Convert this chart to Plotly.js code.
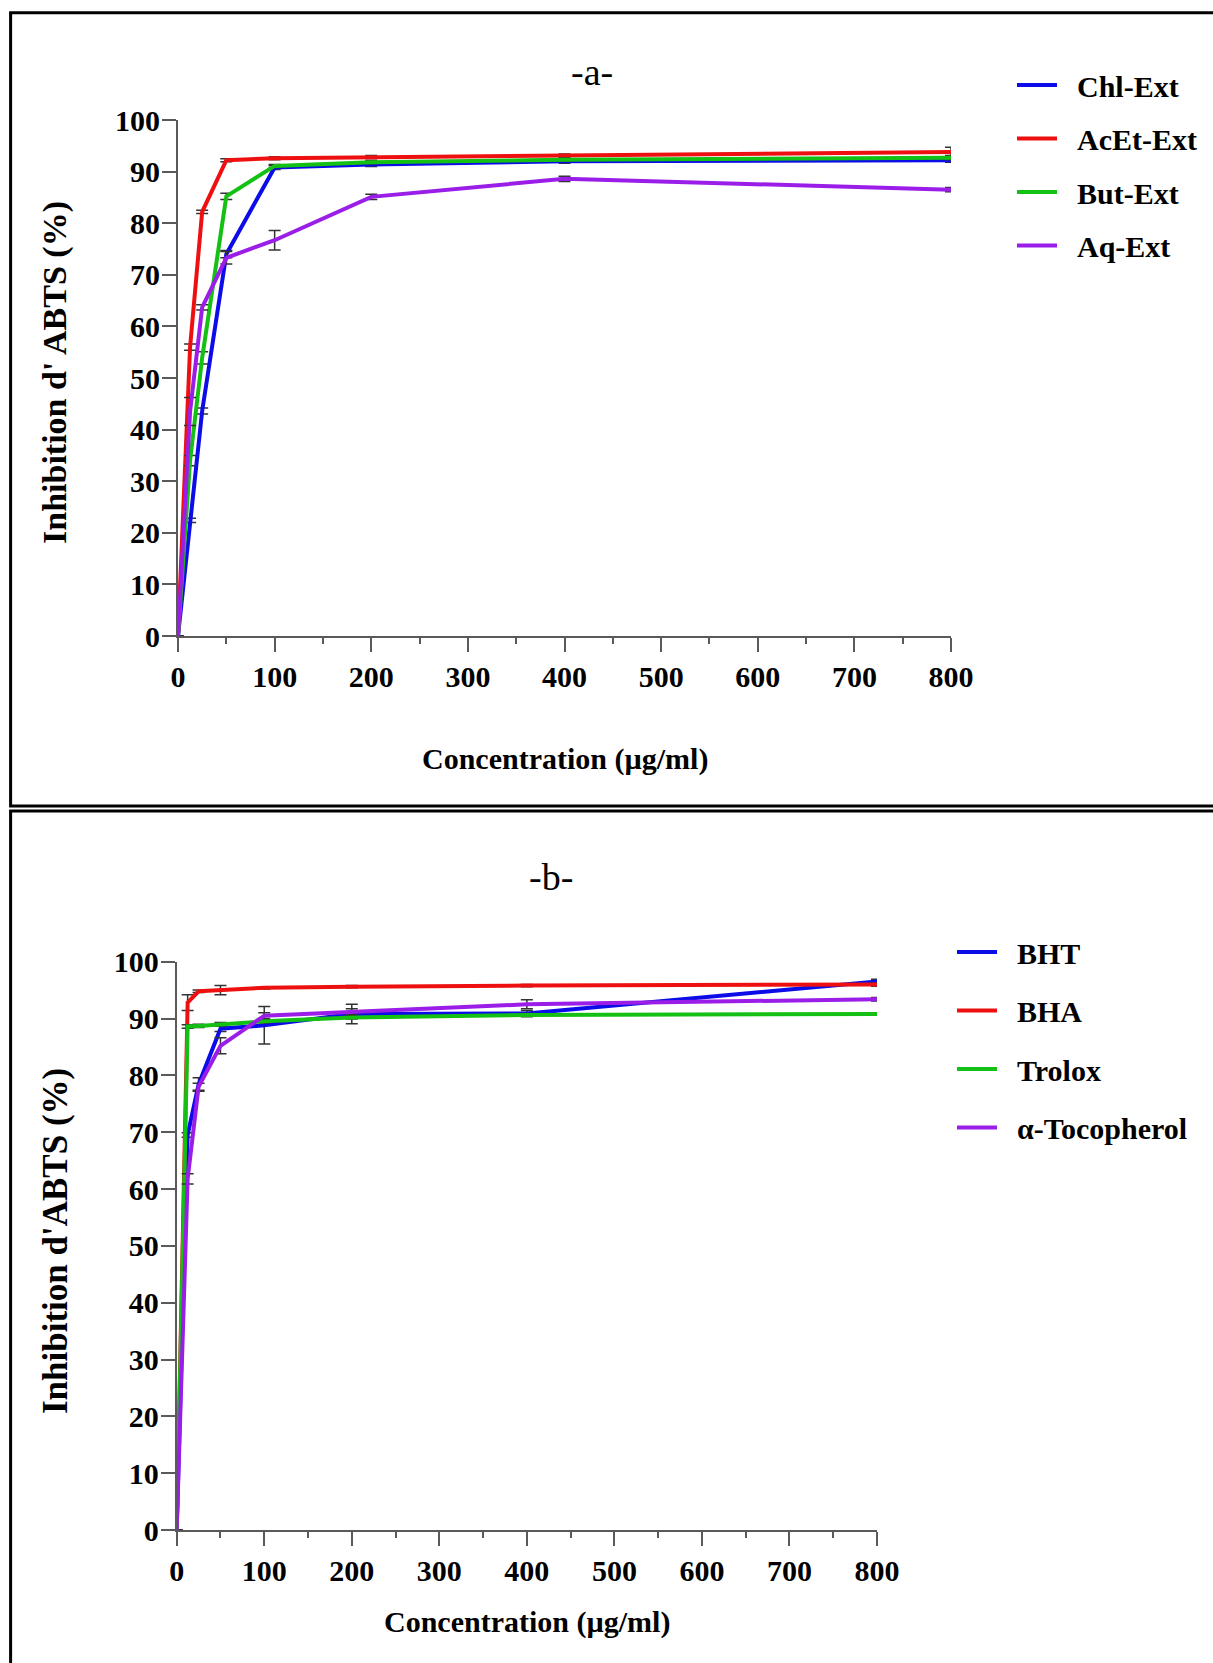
<!DOCTYPE html>
<html>
<head>
<meta charset="utf-8">
<script src="https://cdn.plot.ly/plotly-3.0.1.min.js"></script>
<style>html,body{margin:0;padding:0;background:#fff;}#chart{width:1213px;height:1663px;}</style>
</head>
<body>
<div id="chart"></div>
<script>
// ---- data ----
const conc = [0, 12.5, 25, 50, 100, 200, 400, 800];

// panel a: extracts
const namesA = ['Chl-Ext', 'AcEt-Ext', 'But-Ext', 'Aq-Ext'];
const chlExt  = [0, 22.4, 43.6, 74.0, 90.8, 91.4, 92.0, 92.2];
const acetExt = [0, 56.0, 82.2, 92.2, 92.6, 92.8, 93.1, 93.8];
const butExt  = [0, 34.0, 53.9, 85.2, 91.1, 91.8, 92.3, 92.7];
const aqExt   = [0, 43.5, 63.7, 73.3, 76.7, 85.1, 88.6, 86.5];
const chlErr  = [0, 0.4, 0.6, 0.7, 0.4, 0.4, 0.4, 0.4];
const acetErr = [0, 0.6, 0.3, 0.3, 0.3, 0.3, 0.3, 0.9];
const butErr  = [0, 1.0, 1.2, 0.6, 0.3, 0.3, 0.3, 0.4];
const aqErr   = [0, 2.7, 0.5, 1.2, 1.9, 0.5, 0.5, 0.4];

// panel b: standards
const namesB = ['BHT', 'BHA', 'Trolox', 'α-Tocopherol'];
const bht    = [0, 69.5, 78.4, 88.2, 88.8, 90.8, 90.9, 96.5];
const bha    = [0, 92.8, 94.8, 95.0, 95.4, 95.6, 95.8, 96.0];
const trolox = [0, 88.6, 88.7, 89.0, 89.5, 90.2, 90.6, 90.8];
const toco   = [0, 61.8, 78.0, 85.2, 90.5, 91.2, 92.5, 93.4];
const bhtErr    = [0, 0.4, 1.2, 0.5, 3.3, 1.7, 0.5, 0.4];
const bhaErr    = [0, 1.4, 0.2, 0.8, 0.2, 0.2, 0.2, 0.3];
const troloxErr = [0, 0.3, 0.3, 0.3, 0.3, 0.3, 0.3, 0.2];
const tocoErr   = [0, 0.9, 0.6, 1.4, 0.5, 0.5, 0.8, 0.3];

const xTickVals = [0, 100, 200, 300, 400, 500, 600, 700, 800];
const yTickVals = [0, 10, 20, 30, 40, 50, 60, 70, 80, 90, 100];

// ---- styling ----
const colors = ['#0c0ce8', '#ee1010', '#14c014', '#9b1ee8'];
const W = 1213, H = 1663;
const px = v => v / W;
const py = v => 1 - v / H;
const serif = 'Liberation Serif, Times New Roman, serif';
const boldFont = {family: serif, size: 30, color: '#000', weight: 'bold'};
const gap = '\u00a0\u00a0';

function mk(x, y, err, name, color, xa, ya, legend, grp) {
  return {
    x: x, y: y, name: gap + name, type: 'scatter', mode: 'lines',
    xaxis: xa, yaxis: ya, legend: legend, legendgroup: grp,
    line: {color: color, width: 4},
    error_y: {type: 'data', array: err, visible: true, color: '#333', thickness: 1.5, width: 6}
  };
}

const seriesA = [chlExt, acetExt, butExt, aqExt];
const errA = [chlErr, acetErr, butErr, aqErr];
const seriesB = [bht, bha, trolox, toco];
const errB = [bhtErr, bhaErr, troloxErr, tocoErr];

const traces = [];
seriesA.forEach((s, i) => traces.push(mk(conc, s, errA[i], namesA[i], colors[i], 'x', 'y', 'legend', 'a' + i)));
seriesB.forEach((s, i) => traces.push(mk(conc, s, errB[i], namesB[i], colors[i], 'x2', 'y2', 'legend2', 'b' + i)));

function xAxis(domain, anchor) {
  return {
    domain: domain, anchor: anchor, range: [0, 800], fixedrange: true,
    tickmode: 'array', tickvals: xTickVals,
    showline: true, linecolor: '#5a5a5a', linewidth: 2,
    ticks: 'outside', ticklen: 14, tickwidth: 2, tickcolor: '#5a5a5a',
    minor: {dtick: 50, tick0: 0, ticks: 'outside', ticklen: 6, tickwidth: 2, tickcolor: '#5a5a5a'},
    showgrid: false, zeroline: false, tickfont: boldFont, ticklabelstandoff: -1
  };
}
function yAxis(domain, anchor) {
  return {
    domain: domain, anchor: anchor, range: [0, 100], fixedrange: true,
    tickmode: 'array', tickvals: yTickVals,
    showline: true, linecolor: '#5a5a5a', linewidth: 2,
    ticks: 'outside', ticklen: 14, tickwidth: 2, tickcolor: '#5a5a5a',
    showgrid: false, zeroline: false, tickfont: boldFont, ticklabelstandoff: -4
  };
}

const legendBase = {
  xanchor: 'left', yanchor: 'top', bgcolor: 'rgba(0,0,0,0)',
  font: boldFont, itemwidth: 40, traceorder: 'grouped', borderwidth: 0
};

const layout = {
  width: W, height: H, autosize: false,
  margin: {l: 0, r: 0, t: 0, b: 0, pad: 0},
  paper_bgcolor: '#fff', plot_bgcolor: '#fff',
  showlegend: true,
  xaxis: xAxis([px(178), px(951)], 'y'),
  yaxis: yAxis([py(636), py(120)], 'x'),
  xaxis2: xAxis([px(176.7), px(877)], 'y2'),
  yaxis2: yAxis([py(1530), py(961.7)], 'x2'),
  legend: Object.assign({}, legendBase, {x: px(1012), y: py(59), tracegroupgap: 11.5}),
  legend2: Object.assign({}, legendBase, {x: px(952), y: py(926), tracegroupgap: 16.5}),
  shapes: [
    {type: 'rect', xref: 'paper', yref: 'paper', x0: px(10.6), x1: px(1225), y0: py(806), y1: py(12.7),
     line: {color: '#000', width: 3}, fillcolor: 'rgba(0,0,0,0)'},
    {type: 'rect', xref: 'paper', yref: 'paper', x0: px(10.6), x1: px(1225), y0: py(1680), y1: py(811),
     line: {color: '#000', width: 3}, fillcolor: 'rgba(0,0,0,0)'}
  ],
  annotations: [
    {text: '-a-', xref: 'paper', yref: 'paper', x: px(592), y: py(72), showarrow: false,
     xanchor: 'center', yanchor: 'middle', font: {family: serif, size: 38, color: '#000'}},
    {text: '-b-', xref: 'paper', yref: 'paper', x: px(551), y: py(877), showarrow: false,
     xanchor: 'center', yanchor: 'middle', font: {family: serif, size: 38, color: '#000'}},
    {text: 'Concentration (µg/ml)', xref: 'paper', yref: 'paper', x: px(565), y: py(759), showarrow: false,
     xanchor: 'center', yanchor: 'middle', font: boldFont},
    {text: 'Concentration (µg/ml)', xref: 'paper', yref: 'paper', x: px(527), y: py(1622), showarrow: false,
     xanchor: 'center', yanchor: 'middle', font: boldFont},
    {text: "Inhibition d' ABTS (%)", xref: 'paper', yref: 'paper', x: px(55), y: py(373), showarrow: false,
     textangle: -90, xanchor: 'center', yanchor: 'middle', font: Object.assign({}, boldFont, {size: 34})},
    {text: "Inhibition d'ABTS (%)", xref: 'paper', yref: 'paper', x: px(55), y: py(1241), showarrow: false,
     textangle: -90, xanchor: 'center', yanchor: 'middle', font: Object.assign({}, boldFont, {size: 35})}
  ]
};

Plotly.newPlot('chart', traces, layout, {staticPlot: true, displayModeBar: false});
</script>
</body>
</html>
